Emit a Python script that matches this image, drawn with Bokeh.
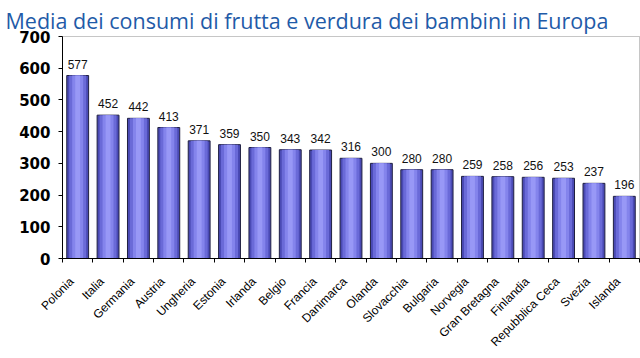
from math import pi
from bokeh.plotting import figure
from bokeh.models import FixedTicker, Range1d, ColumnDataSource, LabelSet
from bokeh.core.properties import value
from bokeh.embed import file_html
from bokeh.resources import INLINE

countries = ["Polonia", "Italia", "Germania", "Austria", "Ungheria", "Estonia",
             "Irlanda", "Belgio", "Francia", "Danimarca", "Olanda", "Slovacchia",
             "Bulgaria", "Norvegia", "Gran Bretagna", "Finlandia",
             "Repubblica Ceca", "Svezia", "Islanda"]
values = [577, 452, 442, 413, 371, 359, 350, 343, 342, 316, 300, 280, 280,
          259, 258, 256, 253, 237, 196]
y_ticks = [0, 100, 200, 300, 400, 500, 600, 700]

n = len(countries)
centers = [i + 0.5 for i in range(n)]
label_pos = [c - 0.2 for c in centers]
bounds = [i for i in range(n + 1)]
src = ColumnDataSource(dict(x=centers, top=values, lab=[str(v) for v in values]))

p = figure(width=640, height=358, output_backend="svg", toolbar_location=None,
           x_range=Range1d(0, n), y_range=Range1d(0, 700),
           min_border_left=62, min_border_right=1, min_border_top=36,
           min_border_bottom=100)

p.title.text = "Media dei consumi di frutta e verdura dei bambini in Europa"
p.title.text_font = "Open Sans"
p.title.text_font_style = "normal"
p.title.text_font_size = "21.5px"
p.title.text_color = "#1F5BA8"
p.title.offset = -57
p.title.standoff = 4

p.background_fill_color = "white"
p.border_fill_color = "white"
p.outline_line_color = "#8c8c8c"
p.outline_line_dash = "1 1"
p.xgrid.visible = False
p.ygrid.visible = False

# bars with pseudo gradient
p.vbar(x="x", top="top", width=0.72, bottom=0, source=src,
       fill_color="#4a4ab4", line_color="#202040", line_width=1)
p.vbar(x="x", top="top", width=0.56, bottom=0, source=src,
       fill_color="#6a6ad8", line_color=None)
p.vbar(x="x", top="top", width=0.36, bottom=0, source=src,
       fill_color="#8484ec", line_color=None)
p.vbar(x="x", top="top", width=0.16, bottom=0, source=src,
       fill_color="#9898f6", line_color=None)

labels = LabelSet(x="x", y="top", text="lab", source=src, text_align="center",
                  text_baseline="bottom", y_offset=7,
                  text_font=value("Liberation Sans"),
                  text_font_size=value("12px"), text_color="#111111")
p.add_layout(labels)

# x axis
p.xaxis.ticker = FixedTicker(ticks=label_pos, minor_ticks=bounds)
p.xaxis.major_label_overrides = {c: name for c, name in zip(label_pos, countries)}
p.xaxis.major_tick_line_color = None
p.xaxis.minor_tick_line_color = "black"
p.xaxis.minor_tick_in = 0
p.xaxis.minor_tick_out = 4
p.xaxis.major_label_orientation = pi / 4
p.xaxis.major_label_text_font = "Liberation Sans"
p.xaxis.major_label_text_font_size = "12px"
p.xaxis.major_label_text_color = "black"
p.xaxis.major_label_standoff = 15
p.xaxis.axis_line_color = "black"

# y axis
p.yaxis.ticker = FixedTicker(ticks=y_ticks)
p.yaxis.minor_tick_line_color = None
p.yaxis.major_tick_in = 0
p.yaxis.major_tick_out = 4
p.yaxis.major_label_text_font = "DejaVu Sans"
p.yaxis.major_label_text_font_style = "bold"
p.yaxis.major_label_text_font_size = "15px"
p.yaxis.major_label_text_color = "black"
p.yaxis.major_label_standoff = 8
p.yaxis.axis_line_color = "black"

open("out.html", "w").write(file_html(p, INLINE))
